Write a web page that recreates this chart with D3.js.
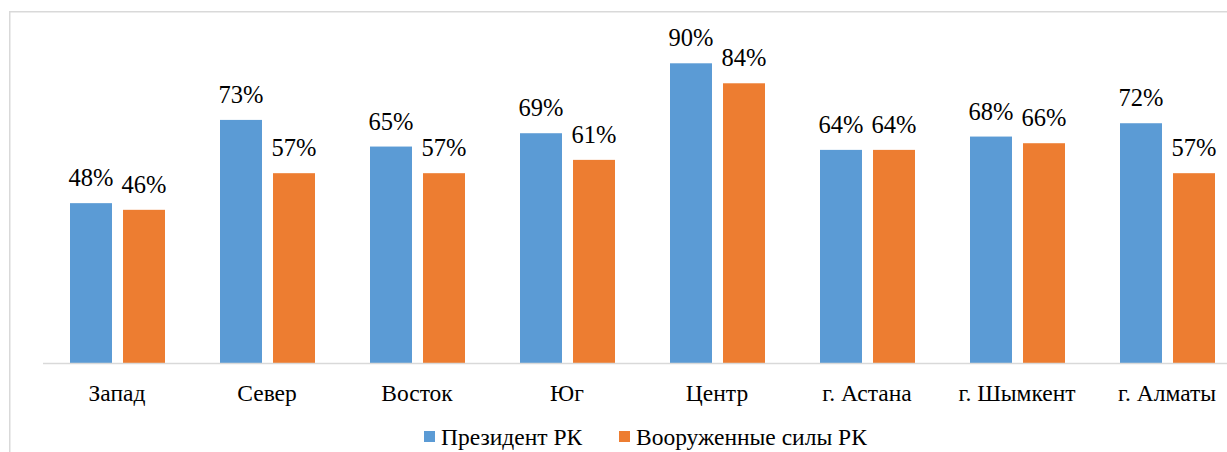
<!DOCTYPE html>
<html><head><meta charset="utf-8">
<script src="https://cdn.jsdelivr.net/npm/d3@7"></script>
<style>
body{margin:0;background:#fff}svg{display:block}
svg text{font-family:"Liberation Serif","Tinos","Times New Roman",serif;fill:#000}
</style>
</head><body>
<svg id="c" width="1227" height="452"></svg>
<script>
const categories = ["Запад","Север","Восток","Юг","Центр","г. Астана","г. Шымкент","г. Алматы"];
const seriesNames = ["Президент РК","Вооруженные силы РК"];
const president = [0.48,0.73,0.65,0.69,0.90,0.64,0.68,0.72];
const armedForces = [0.46,0.57,0.57,0.61,0.84,0.64,0.66,0.57];
const colors = ["#5B9BD5","#ED7D31"];

const svg = d3.select("#c");
const font = "'Liberation Serif'";

// chart border
svg.append("rect").attr("x",9.75).attr("y",11.75).attr("width",1400).attr("height",600)
  .attr("fill","none").attr("stroke","#d9d9d9").attr("stroke-width",1.5);

const x0 = d3.scaleBand().domain(categories).range([42,1242]).padding(0);
const x1 = d3.scaleBand().domain(seriesNames).range([28,123]).paddingInner(0.208).paddingOuter(0);
const y = d3.scaleLinear().domain([0,1]).range([363,30]);

const data = seriesNames.map((s,i)=>({name:s,color:colors[i],values:(i===0?president:armedForces)}));

const g = svg.append("g");
data.forEach(s=>{
  const grp = g.append("g");
  grp.selectAll("rect").data(categories).join("rect")
    .attr("x",(c)=>x0(c)+x1(s.name))
    .attr("width",x1.bandwidth())
    .attr("y",(c,i)=>y(s.values[i]))
    .attr("height",(c,i)=>y(0)-y(s.values[i]))
    .attr("fill",s.color);
  grp.selectAll("text").data(categories).join("text")
    .attr("x",(c)=>x0(c)+x1(s.name)+x1.bandwidth()/2)
    .attr("y",(c,i)=>y(s.values[i])-17)
    .attr("text-anchor","middle")
    .style("font-family",font).style("font-size","24.5px")
    .text((c,i)=>Math.round(s.values[i]*100)+"%");
});

// baseline axis
const axis = d3.axisBottom(x0).tickSize(0).tickPadding(0);
const ax = svg.append("g").attr("transform","translate(0,363.5)").call(axis);
ax.attr("font-family",null).attr("font-size",null);
ax.select(".domain").attr("stroke","#d9d9d9").attr("stroke-width",1.5).attr("d","M43,0H1242");
ax.selectAll(".tick text").attr("y",37).attr("dy",0).attr("fill",null)
  .style("font-family",font).style("font-size","23.5px");

// legend
const legendX = [424,619];
const lg = svg.append("g");
data.forEach((s,i)=>{
  lg.append("rect").attr("x",legendX[i]).attr("y",431).attr("width",11).attr("height",11).attr("fill",s.color);
  lg.append("text").attr("x",legendX[i]+17).attr("y",445)
    .style("font-family",font).style("font-size","23.5px").text(s.name);
});
</script>
</body></html>
